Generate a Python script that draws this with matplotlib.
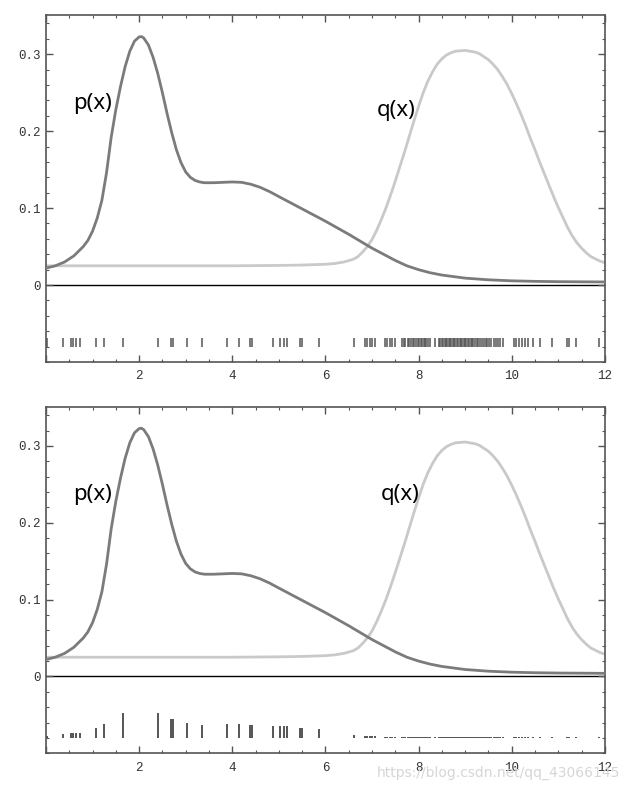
import matplotlib
matplotlib.use('Agg')
import matplotlib.pyplot as plt
from matplotlib.ticker import MultipleLocator, FixedLocator, FixedFormatter

# curve p(x)
p_x = [0.0, 0.2, 0.4, 0.6, 0.8, 0.9, 1.0, 1.1, 1.2, 1.3, 1.4, 1.5, 1.6, 1.7, 1.8,
       1.9, 2.0, 2.05, 2.1, 2.2, 2.3, 2.4, 2.5, 2.6, 2.7, 2.8, 2.9, 3.0, 3.1, 3.2,
       3.3, 3.4, 3.6, 3.8, 4.0, 4.2, 4.4, 4.6, 4.8, 5.0, 5.25, 5.5, 5.75, 6.0, 6.25,
       6.5, 6.75, 7.0, 7.25, 7.5, 7.75, 8.0, 8.25, 8.5, 8.75, 9.0, 9.5, 10.0, 10.5,
       11.0, 12.0]
p_y = [0.022, 0.025, 0.030, 0.038, 0.050, 0.058, 0.070, 0.087, 0.110, 0.146, 0.192,
       0.228, 0.258, 0.284, 0.304, 0.317, 0.3225, 0.323, 0.321, 0.312, 0.296, 0.275,
       0.250, 0.223, 0.198, 0.176, 0.159, 0.147, 0.140, 0.136, 0.134, 0.133, 0.133,
       0.1335, 0.134, 0.1335, 0.131, 0.127, 0.1215, 0.115, 0.107, 0.099, 0.091, 0.083,
       0.0745, 0.066, 0.057, 0.048, 0.040, 0.032, 0.025, 0.020, 0.016, 0.013, 0.011,
       0.009, 0.0068, 0.0055, 0.0048, 0.0044, 0.004]

# curve q(x)
q_x = [0.0, 1.0, 2.0, 3.0, 4.0, 5.0, 5.5, 6.0, 6.2, 6.4, 6.6, 6.7, 6.8, 6.9, 7.0,
       7.1, 7.2, 7.3, 7.4, 7.5, 7.6, 7.7, 7.8, 7.9, 8.0, 8.1, 8.2, 8.3, 8.4, 8.5,
       8.6, 8.7, 8.8, 9.0, 9.2, 9.3, 9.4, 9.5, 9.6, 9.7, 9.8, 9.9, 10.0, 10.1, 10.2,
       10.3, 10.4, 10.5, 10.6, 10.7, 10.8, 10.9, 11.0, 11.1, 11.2, 11.3, 11.4, 11.5,
       11.6, 11.7, 11.8, 11.9, 12.0]
q_y = [0.025, 0.025, 0.025, 0.025, 0.025, 0.0255, 0.026, 0.027, 0.028, 0.030, 0.0335,
       0.037, 0.043, 0.050, 0.059, 0.071, 0.085, 0.100, 0.117, 0.135, 0.154, 0.173,
       0.193, 0.213, 0.232, 0.250, 0.265, 0.277, 0.287, 0.294, 0.299, 0.302, 0.304,
       0.305, 0.303, 0.301, 0.297, 0.293, 0.287, 0.280, 0.271, 0.261, 0.249, 0.236,
       0.222, 0.207, 0.191, 0.176, 0.160, 0.145, 0.130, 0.115, 0.101, 0.088, 0.075,
       0.064, 0.055, 0.048, 0.042, 0.037, 0.034, 0.031, 0.029]

# sample positions (rug), left group and right group
samples_left = [0.02, 0.37, 0.53, 0.58, 0.64, 0.72, 1.08, 1.25, 1.66, 2.41, 2.69, 2.73,
                3.02, 3.34, 3.88, 4.15, 4.38, 4.42, 4.88, 5.02, 5.12, 5.17, 5.46, 5.50,
                5.86]
weights_left = [0.002, 0.005, 0.006, 0.007, 0.007, 0.007, 0.013, 0.018, 0.032, 0.033,
                0.025, 0.024, 0.019, 0.017, 0.018, 0.018, 0.017, 0.017, 0.016, 0.016,
                0.015, 0.015, 0.013, 0.013, 0.011]

samples_right = [6.62, 6.84, 6.89, 6.95, 7.00, 7.07, 7.28, 7.33, 7.39, 7.43, 7.50, 7.64,
                 7.68, 7.72, 7.77, 7.80, 7.84, 7.88, 7.91, 7.95, 7.98, 8.02, 8.05, 8.08,
                 8.11, 8.14, 8.17, 8.20, 8.24, 8.36, 8.44, 8.47, 8.50, 8.53, 8.56, 8.59,
                 8.62, 8.65, 8.68, 8.70, 8.73, 8.76, 8.79, 8.82, 8.85, 8.88, 8.91, 8.94,
                 8.97, 9.00, 9.03, 9.06, 9.09, 9.12, 9.15, 9.18, 9.21, 9.25, 9.28, 9.32,
                 9.36, 9.40, 9.44, 9.48, 9.52, 9.56, 9.61, 9.66, 9.71, 9.76, 9.81, 10.04,
                 10.10, 10.16, 10.22, 10.28, 10.35, 10.45, 10.60, 10.87, 11.19, 11.24,
                 11.38, 11.87]
weights_right = [0.004, 0.002, 0.002, 0.002, 0.002, 0.002, 0.0015, 0.0015, 0.0015,
                 0.0015, 0.0015, 0.0015, 0.0015, 0.0015, 0.0015, 0.0015, 0.0015, 0.0015,
                 0.0015, 0.0015, 0.0015, 0.0015, 0.0015, 0.0015, 0.0015, 0.0015, 0.0015,
                 0.0015, 0.0015, 0.0015, 0.0015, 0.0015, 0.0015, 0.0015, 0.0015, 0.0015,
                 0.0015, 0.0015, 0.0015, 0.0015, 0.0015, 0.0015, 0.0015, 0.0015, 0.0015,
                 0.0015, 0.0015, 0.0015, 0.0015, 0.0015, 0.0015, 0.0015, 0.0015, 0.0015,
                 0.0015, 0.0015, 0.0015, 0.0015, 0.0015, 0.0015, 0.0015, 0.0015, 0.0015,
                 0.0015, 0.0015, 0.0015, 0.0015, 0.0015, 0.0015, 0.0015, 0.0015, 0.0015,
                 0.0015, 0.0015, 0.0015, 0.0015, 0.0015, 0.0015, 0.0015, 0.0015, 0.0015,
                 0.0015, 0.0015, 0.0015]

samples = samples_left + samples_right
weights = weights_left + weights_right

x_ticks = [0, 2, 4, 6, 8, 10, 12]
x_labels = ['', '2', '4', '6', '8', '10', '12']
y_ticks = [0, 0.1, 0.2, 0.3]
y_labels = ['0', '0.1', '0.2', '0.3']

RUG_BASE = -0.08
P_COLOR = '#7b7b7b'
Q_COLOR = '#c9c9c9'
FRAME = '#555555'


def style_axes(ax):
    ax.set_xlim(0, 12)
    ax.set_ylim(-0.1, 0.351)
    ax.xaxis.set_major_locator(FixedLocator(x_ticks))
    ax.xaxis.set_major_formatter(FixedFormatter(x_labels))
    ax.yaxis.set_major_locator(FixedLocator(y_ticks))
    ax.yaxis.set_major_formatter(FixedFormatter(y_labels))
    ax.xaxis.set_minor_locator(MultipleLocator(0.5))
    ax.yaxis.set_minor_locator(MultipleLocator(0.02))
    ax.tick_params(which='both', direction='in', top=True, right=True,
                   color=FRAME, labelsize=9, labelcolor='#333333')
    ax.tick_params(which='major', length=5, width=1)
    ax.tick_params(axis='x', which='major', pad=6)
    ax.tick_params(which='minor', length=2.5, width=0.8)
    for lab in ax.get_xticklabels() + ax.get_yticklabels():
        lab.set_family(['Liberation Mono', 'DejaVu Sans Mono'])
    for sp in ax.spines.values():
        sp.set_color(FRAME)
        sp.set_linewidth(1.2)
    ax.axhline(0, color='black', lw=1.0, zorder=1)
    ax.plot(q_x, q_y, color=Q_COLOR, lw=2.0, solid_capstyle='round',
            solid_joinstyle='round', zorder=2)
    ax.plot(p_x, p_y, color=P_COLOR, lw=2.0, solid_capstyle='round',
            solid_joinstyle='round', zorder=3)


fig = plt.figure(figsize=(6.3, 7.9), dpi=100)
ax1 = fig.add_axes([0.073, 0.5418, 0.887, 0.4392])
ax2 = fig.add_axes([0.073, 0.0465, 0.887, 0.4387])

for ax in (ax1, ax2):
    style_axes(ax)

# top: unweighted samples
ax1.vlines(samples, RUG_BASE, RUG_BASE + 0.011, color='#555555', lw=1.1)
ax1.text(0.99, 0.236, 'p(x)', fontsize=16, family='Noto Sans', ha='center', va='center')
ax1.text(7.52, 0.227, 'q(x)', fontsize=16, family='Noto Sans', ha='center', va='center')

# bottom: weighted samples
ax2.vlines(samples, RUG_BASE, [RUG_BASE + w for w in weights], color='#555555', lw=1.4)
ax2.text(0.99, 0.237, 'p(x)', fontsize=16, family='Noto Sans', ha='center', va='center')
ax2.text(7.61, 0.237, 'q(x)', fontsize=16, family='Noto Sans', ha='center', va='center')

fig.text(0.985, 0.022, 'https://blog.csdn.net/qq_43066145', fontsize=10,
         color='#d6d6d6', ha='right', va='center', family='DejaVu Sans')

fig.savefig('out.png', dpi=100)
